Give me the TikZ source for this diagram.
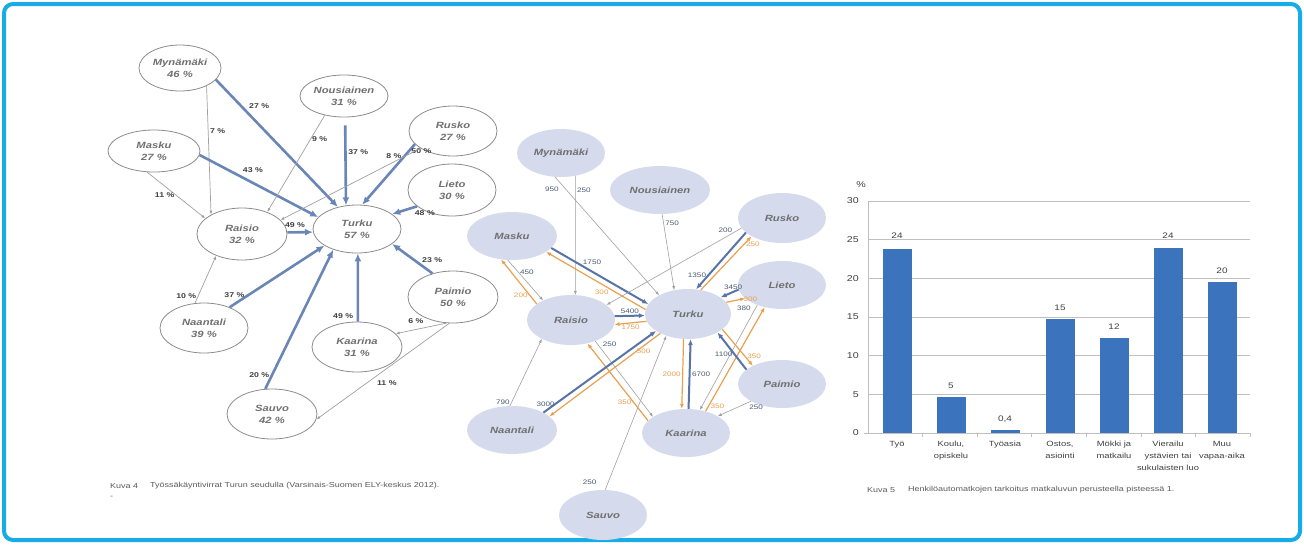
\documentclass[tikz,border=0pt]{standalone}
\usepackage{fontspec}
\setmainfont{Liberation Sans}[FakeStretch=1.25]
\usepackage{xcolor}
\usepackage{tikz}
\usetikzlibrary{shapes.geometric}
\usetikzlibrary{arrows.meta}

\definecolor{framecyan}{RGB}{22,172,232}
\definecolor{ringgrey}{RGB}{140,140,140}
\definecolor{cityname}{RGB}{112,112,112}
\definecolor{flowsteel}{RGB}{106,134,182}
\definecolor{thingrey}{RGB}{160,160,160}
\definecolor{pcttext}{RGB}{64,64,64}
\definecolor{cityfill}{RGB}{213,218,236}
\definecolor{flowblue}{RGB}{88,115,166}
\definecolor{floworange}{RGB}{232,160,80}
\definecolor{numtext}{RGB}{74,90,112}
\definecolor{barblue}{RGB}{59,115,188}
\definecolor{gridgrey}{RGB}{191,191,191}
\definecolor{captext}{RGB}{90,90,90}

\begin{document}
\begin{tikzpicture}[x=1pt, y=-1pt,
        lcity/.style={ellipse, draw=ringgrey, line width=0.8pt, fill=white, minimum width=88pt, minimum height=50pt, inner sep=0pt, align=center, text=cityname, font=\fontsize{9}{12}\selectfont\bfseries\itshape},
        mcity/.style={ellipse, fill=cityfill, minimum width=88pt, minimum height=48pt, inner sep=0pt, text=cityname, font=\fontsize{9}{11}\selectfont\bfseries\itshape},
        lbig/.style={-{Latex[length=8pt,width=7pt]}, line width=2.6pt, draw=flowsteel},
        lsmall/.style={-{Latex[length=4pt,width=3pt]}, line width=0.7pt, draw=thingrey},
        lpct/.style={font=\fontsize{7}{8}\selectfont\bfseries, text=pcttext, inner sep=1.5pt},
        mbig/.style={-{Latex[length=6pt,width=5pt]}, line width=2pt, draw=flowblue},
        mback/.style={-{Latex[length=5pt,width=4pt]}, line width=1.2pt, draw=floworange},
        msmall/.style={-{Latex[length=4pt,width=3pt]}, line width=0.6pt, draw=thingrey},
        mnum/.style={font=\fontsize{6.5}{7}\selectfont, text=numtext, inner sep=1.5pt},
        onum/.style={mnum, text=floworange},
        gridline/.style={draw=gridgrey, line width=0.7pt},
        ytick/.style={anchor=east, font=\fontsize{8.5}{9}\selectfont, text=pcttext, inner sep=1pt},
        barval/.style={anchor=south, font=\fontsize{8}{9}\selectfont, text=pcttext, inner sep=1pt},
        barcat/.style={anchor=north, align=center, font=\fontsize{7.5}{12}\selectfont, text=pcttext, inner sep=0pt},
        caption/.style={anchor=west, font=\fontsize{7.2}{8}\selectfont, text=captext, inner sep=0pt}]
            \useasboundingbox (0,0) rectangle (1304,544);
            \draw[framecyan, line width=4pt, rounded corners=9pt] (4,4) rectangle (1300,540);

            \node[lcity, minimum width=82pt, minimum height=46pt] (lmyn) at (180,68) {Mynämäki\\46 \%};
            \node[lcity, minimum width=92pt, minimum height=42pt] (lmas) at (154,151) {Masku\\27 \%};
            \node[lcity, minimum height=42pt] (lnou) at (344,96) {Nousiainen\\31 \%};
            \node[lcity] (lrus) at (453,131) {Rusko\\27 \%};
            \node[lcity, minimum height=52pt] (llie) at (452,190) {Lieto\\30 \%};
            \node[lcity, minimum height=48pt] (ltur) at (357,229) {Turku\\57 \%};
            \node[lcity, minimum width=90pt, minimum height=52pt] (lrai) at (242,234) {Raisio\\32 \%};
            \node[lcity] (lnaa) at (204,328) {Naantali\\39 \%};
            \node[lcity, minimum width=90pt] (lsau) at (272,414) {Sauvo\\42 \%};
            \node[lcity, minimum width=90pt, minimum height=52pt] (lpai) at (453,297) {Paimio\\50 \%};
            \node[lcity, minimum width=90pt] (lkaa) at (357,347) {Kaarina\\31 \%};

            \draw[lbig] (lmyn.-18) -- (ltur.131) node[lpct, pos=0.25, above right] (lp1) {27 \%};
            \draw[lsmall] (lmyn.-34) -- (lrai.148) node[lpct, pos=0.35, right] (lp2) {7 \%};
            \draw[lbig] (lmas.-5) -- (ltur.163) node[lpct, pos=0.45, above=8pt] (lp3) {43 \%};
            \draw[lsmall] (lmas.-108) -- (lrai.157) node[lpct, pos=0.5, left] (lp4) {11 \%};
            \draw[lbig, shorten <=8pt] (lnou.-87) -- (ltur.115) node[lpct, pos=0.4, right] (lp5) {37 \%};
            \draw[lsmall] (lnou.-135) -- (lrai.41) node[lpct, pos=0.25, right] (lp6) {9 \%};
            \draw[lbig] (lrus.-161) -- (ltur.78) node[lpct, pos=0.12, right] (lp7) {50 \%};
            \draw[lsmall] (lrus.-152) -- (lrai.20) node[lpct, pos=0.19, above=2pt] (lp8) {8 \%};
            \draw[lbig] (llie.-155) -- (ltur.23) node[lpct, pos=0.2, below right] (lp9) {48 \%};
            \draw[lbig] (lrai.2) -- (ltur.-176) node[lpct, pos=0.3, above=2pt] (lp10) {49 \%};
            \draw[lbig] (lnaa.39) -- (ltur.-153) node[lpct, pos=0.05, above=4pt] (lp11) {37 \%};
            \draw[lsmall] (lnaa.110) -- (lrai.-140) node[lpct, pos=0.15, left] (lp12) {10 \%};
            \draw[lbig] (lsau.105) -- (ltur.-139) node[lpct, pos=0.1, left] (lp13) {20 \%};
            \draw[lbig] (lkaa.88) -- (ltur.-88) node[lpct, pos=0.08, left=2pt] (lp14) {49 \%};
            \draw[lbig] (lpai.131) -- (ltur.-23) node[lpct, pos=0.45, right=5pt] (lp15) {23 \%};
            \draw[lsmall] (lpai.-104) -- (lkaa.19) node[lpct, pos=0.6, above=4pt] (lp16) {6 \%};
            \draw[lsmall] (lpai.-98) -- (lsau.-7) node[lpct, pos=0.47, below=10pt] (lp17) {11 \%};

            \node[mcity] (mmyn) at (561,153) {Mynämäki};
            \node[mcity, minimum width=100pt] (mnou) at (660,190) {Nousiainen};
            \node[mcity, minimum width=90pt] (mmas) at (512,236) {Masku};
            \node[mcity, minimum height=50pt] (mrus) at (782,218) {Rusko};
            \node[mcity] (mlie) at (782,285) {Lieto};
            \node[mcity, minimum width=86pt, minimum height=50pt] (mtur) at (688,314) {Turku};
            \node[mcity, minimum height=50pt] (mrai) at (571,320) {Raisio};
            \node[mcity, minimum width=90pt] (mnaa) at (512,430) {Naantali};
            \node[mcity, minimum height=50pt] (msau) at (603,515) {Sauvo};
            \node[mcity] (mkaa) at (686,433) {Kaarina};
            \node[mcity] (mpai) at (782,384) {Paimio};

            \draw[msmall] (mmyn.-104) -- (mtur.147) node[mnum, pos=0.1, left=5pt] (mn1) {950};
            \draw[msmall] (mmyn.-58) -- (mrai.80) node[mnum, pos=0.12, right] (mn2) {250};
            \draw[msmall] (mnou.-85) -- (mtur.120) node[mnum, pos=0.12, right] (mn3) {750};
            \draw[mbig] (mmas.-17) -- (mtur.166) node[mnum, pos=0.42, above=5pt] (mn4) {1750};
            \draw[mback] (mtur.174) -- (mmas.-25) node[onum, pos=0.44, below=4pt] (mn5) {300};
            \draw[msmall] (mmas.-100) -- (mrai.145) node[mnum, pos=0.3, right] (mn6) {450};
            \draw[mback] (mrai.155) -- (mmas.-115) node[onum, pos=0.2, left] (mn7) {200};
            \draw[mbig] (mrus.-158) -- (mtur.72) node[mnum, pos=0.75, left] (mn8) {1350};
            \draw[mback] (mtur.62) -- (mrus.-149) node[onum, pos=0.85, right] (mn9) {250};
            \draw[msmall] (mrus.-166) -- (mrai.23) node[mnum, pos=0.12, above=3pt] (mn10) {200};
            \draw[mbig] (mlie.-174) -- (mtur.27) node[mnum, pos=0.3, above] (mn11) {3450};
            \draw[mback] (mtur.17) -- (mlie.-160) node[onum, pos=0.8, right] (mn12) {300};
            \draw[msmall] (mlie.-141) -- (mkaa.59) node[mnum, pos=0.03, left=3pt] (mn13) {380};
            \draw[mback] (mkaa.48) -- (mlie.-128) node[onum, pos=0.05, right] (mn14) {350};
            \draw[mbig] (mpai.158) -- (mtur.-32) node[mnum, pos=0.4, left] (mn15) {1100};
            \draw[mback] (mtur.-24) -- (mpai.148) node[onum, pos=0.75, right] (mn16) {350};
            \draw[msmall] (mpai.-151) -- (mkaa.28) node[mnum, pos=0.1, below right] (mn17) {250};
            \draw[mbig] (mkaa.84) -- (mtur.-84) node[mnum, pos=0.5, right] (mn18) {6700};
            \draw[mback] (mtur.-100) -- (mkaa.100) node[onum, pos=0.5, left] (mn19) {2000};
            \draw[mbig] (mrai.5) -- (mtur.-178) node[mnum, pos=0.5, above] (mn20) {5400};
            \draw[mback] (mtur.-170) -- (mrai.-6) node[onum, pos=0.5, below] (mn21) {1750};
            \draw[msmall] (mrai.-41) -- (mkaa.154) node[mnum, pos=0.1, above right] (mn22) {250};
            \draw[mback] (mkaa.162) -- (mrai.-55) node[onum, pos=0.24, left] (mn23) {350};
            \draw[mbig] (mnaa.29) -- (mtur.-152) node[mnum, pos=0.02, above=2pt] (mn24) {3000};
            \draw[mback] (mtur.-145) -- (mnaa.20) node[onum, pos=0.15, below=1pt] (mn25) {500};
            \draw[msmall] (mnaa.95) -- (mrai.-147) node[mnum, pos=0.05, left] (mn26) {790};
            \draw[msmall] (msau.85) -- (mtur.-135) node[mnum, pos=0.05, left=10pt] (mn27) {250};

            \draw[gridline] (868,201) -- (1250,201);
            \draw[gridline] (868,239.7) -- (1250,239.7);
            \draw[gridline] (868,278.3) -- (1250,278.3);
            \draw[gridline] (868,317) -- (1250,317);
            \draw[gridline] (868,355.7) -- (1250,355.7);
            \draw[gridline] (868,394.3) -- (1250,394.3);
            \draw[gridline] (868,201) -- (868,433);
            \draw[gridline] (864,433) -- (1250,433);
            \draw[gridline] (922.6,433) -- (922.6,437);
            \draw[gridline] (977.1,433) -- (977.1,437);
            \draw[gridline] (1031.7,433) -- (1031.7,437);
            \draw[gridline] (1086.3,433) -- (1086.3,437);
            \draw[gridline] (1140.9,433) -- (1140.9,437);
            \draw[gridline] (1195.4,433) -- (1195.4,437);
            \draw[gridline] (1250,433) -- (1250,437);

            \node[ytick] (ypct) at (867,185) {\%};
            \node[ytick] (y30) at (860,201) {30};
            \node[ytick] (y25) at (860,239.7) {25};
            \node[ytick] (y20) at (860,278.3) {20};
            \node[ytick] (y15) at (860,317) {15};
            \node[ytick] (y10) at (860,355.7) {10};
            \node[ytick] (y5) at (860,394.3) {5};
            \node[ytick] (y0) at (860,433) {0};

            \fill[barblue] (882.5,433) rectangle (911.5,249);
            \fill[barblue] (936.5,433) rectangle (965.5,396.7);
            \fill[barblue] (990.5,433) rectangle (1019.5,429.9);
            \fill[barblue] (1045.5,433) rectangle (1074.5,318.6);
            \fill[barblue] (1099.5,433) rectangle (1128.5,337.9);
            \fill[barblue] (1153.5,433) rectangle (1182.5,248.2);
            \fill[barblue] (1207.5,433) rectangle (1236.5,282.2);

            \node[barval] (vtyo) at (897,240) {24};
            \node[barval] (vkou) at (951,390) {5};
            \node[barval] (vtas) at (1005,424) {0,4};
            \node[barval] (vost) at (1060,312) {15};
            \node[barval] (vmok) at (1114,331) {12};
            \node[barval] (vvie) at (1168,240) {24};
            \node[barval] (vmuu) at (1222,275) {20};

            \node[barcat] (ctyo) at (897,441) {Työ};
            \node[barcat] (ckou) at (951,441) {Koulu,\\opiskelu};
            \node[barcat] (ctas) at (1005,441) {Työasia};
            \node[barcat] (cost) at (1060,441) {Ostos,\\asiointi};
            \node[barcat] (cmok) at (1114,441) {Mökki ja\\matkailu};
            \node[barcat] (cvie) at (1168,441) {Vierailu\\ystävien tai\\sukulaisten luo};
            \node[barcat] (cmuu) at (1222,441) {Muu\\vapaa-aika};

            \node[caption] (kuva4) at (110,486) {Kuva 4};
            \node[caption] (text4) at (150,486) {Työssäkäyntivirrat Turun seudulla (Varsinais-Suomen ELY-keskus 2012).};
            \node[caption] (dash4) at (110,497) {-};
            \node[caption] (kuva5) at (867,490) {Kuva 5};
            \node[caption] (text5) at (908,490) {Henkilöautomatkojen tarkoitus matkaluvun perusteella pisteessä 1.};
        \end{tikzpicture}
\end{document}
